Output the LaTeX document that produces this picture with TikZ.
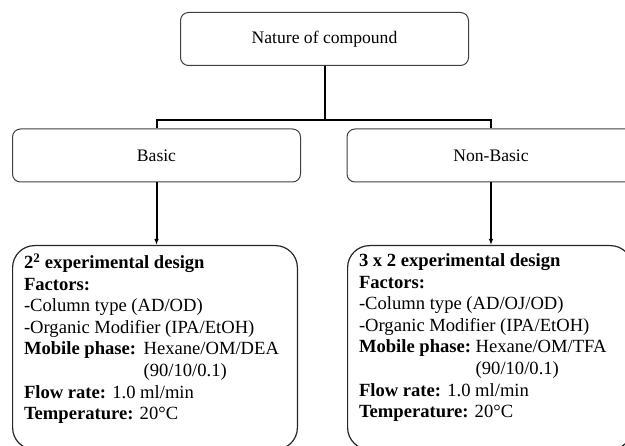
\documentclass[tikz,border=0pt]{standalone}
\usepackage{fontspec}
\setmainfont{Liberation Serif}
\usetikzlibrary{arrows.meta,positioning}
\tikzset
{
    catbox/.style    = {rectangle, draw=black!75, line width=1pt, rounded corners=8pt, align=center, minimum width=288pt, minimum height=53pt, font=\fontsize{17.6pt}{20pt}\selectfont},
    designbox/.style = {rectangle, draw=black!85, line width=1.2pt, rounded corners=22pt, anchor=north west, inner xsep=11.4pt, inner ysep=8pt, font=\fontsize{18.6pt}{21.6pt}\selectfont},
    conn/.style      = {line width=2pt, black}
}
\newcommand{\designtext}[1]{\parbox[t][188pt][t]{262pt}{\raggedright #1}}
\newcommand{\mphase}[1]{\textbf{Mobile phase:}\hspace{#1}}

\begin{document}
\begin{tikzpicture}[x=1pt, y=-1pt, >={Latex[length=6pt,width=4.5pt]}]
\clip (0,0) rectangle (625,446);

\node (nature)   [catbox] at (324.5,39)  {Nature of compound};
\node (basic)    [catbox] at (156.5,155.5) {Basic};
\node (nonbasic) [catbox] at (491,155.5) {Non-Basic};

\node (basicdesign) [designbox] at (12,245) {\designtext{%
\textbf{2\textsuperscript{2} experimental design}\\
\textbf{Factors:}\\
-Column type (AD/OD)\\
-Organic Modifier (IPA/EtOH)\\
\mphase{7.5pt}Hexane/OM/DEA\\
\hphantom{\mphase{7.5pt}}(90/10/0.1)\\
\textbf{Flow rate:} 1.0 ml/min\\
\textbf{Temperature:} 20°C}};

\node (nonbasicdesign) [designbox] at (347,245) {\designtext{%
\textbf{3 x 2 experimental design}\\
\textbf{Factors:}\\
-Column type (AD/OJ/OD)\\
-Organic Modifier (IPA/EtOH)\\
\mphase{4.6pt}Hexane/OM/TFA\\
\hphantom{\mphase{4.6pt}}(90/10/0.1)\\
\textbf{Flow rate:} 1.0 ml/min\\
\textbf{Temperature:} 20°C}};

%% tree lines
\coordinate (busl) at (basic.north |- 0,120);
\coordinate (busr) at (nonbasic.north |- 0,120);
\draw[conn] (nature.south) -- (nature.south |- busl);
\draw[conn] (basic.north) -- (busl) -- (busr) -- (nonbasic.north);

\path
(basic.south)    edge[->,conn] node {} (basic.south |- basicdesign.north)
(nonbasic.south) edge[->,conn] node {} (nonbasic.south |- nonbasicdesign.north);

\end{tikzpicture}
\end{document}
